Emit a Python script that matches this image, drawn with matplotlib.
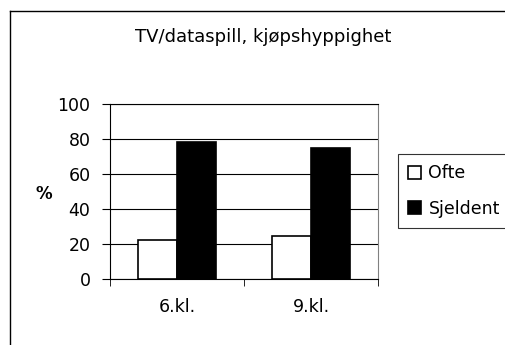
import numpy as np
import matplotlib.pyplot as plt
from matplotlib.lines import Line2D

plt.rcParams['font.family'] = ['DejaVu Sans']

categories = ['6.kl.', '9.kl.']
ofte = [22.3, 24.6]
sjeldent = [78.3, 75.0]
yticks = [0, 20, 40, 60, 80, 100]

W, H = 505, 345
fig = plt.figure(figsize=(W / 100, H / 100), dpi=100)

# outer chart frame: only left and top edges are inside the picture
fx, fy = 9.5 / W, 1 - 10.5 / H
fig.lines.append(Line2D([fx, fx], [0, fy], transform=fig.transFigure,
                        color='black', lw=1))
fig.lines.append(Line2D([fx, 1], [fy, fy], transform=fig.transFigure,
                        color='black', lw=1))

ax = fig.add_axes([110 / W, 1 - 279 / H, (378 - 110) / W, (279 - 104) / H])
x = np.arange(len(categories))
bw = 0.29
ax.bar(x - bw / 2, ofte, bw, color='white', edgecolor='black', lw=1.2,
       label='Ofte', zorder=3)
ax.bar(x + bw / 2, sjeldent, bw, color='black', edgecolor='black', lw=1.2,
       label='Sjeldent', zorder=3)

ax.set_xlim(-0.5, 1.5)
ax.set_ylim(0, 100)
ax.set_yticks(yticks)
ax.yaxis.grid(True, color='black', lw=0.8, zorder=0)
ax.set_xticks(x)
ax.set_xticklabels(categories, fontsize=12.5)
ax.tick_params(axis='x', length=0, pad=14)
ax.set_xticks([-0.5, 0.5, 1.5], minor=True)
ax.tick_params(axis='x', which='minor', length=5, direction='out', color='black')
ax.tick_params(axis='y', length=6, direction='out', labelsize=12.5, pad=8)
for s in ax.spines.values():
    s.set_color('black')
    s.set_linewidth(0.8)
ax.spines['right'].set_color('#808080')

fig.text(44 / W, 1 - 194 / H, '%', fontsize=12, fontweight='bold',
         ha='center', va='center')
fig.text(263 / W, 1 - 37 / H, 'TV/dataspill, kjøpshyppighet', fontsize=13,
         ha='center', va='center')

leg = ax.legend(loc='upper left', bbox_to_anchor=(398 / W, 1 - 154 / H),
                bbox_transform=fig.transFigure, fontsize=12.5, frameon=True,
                fancybox=False, edgecolor='black', handlelength=0.75,
                handleheight=0.75, handletextpad=0.4, borderpad=0.6,
                labelspacing=1.0, borderaxespad=0)
leg.get_frame().set_linewidth(0.8)

fig.savefig('out.png', dpi=100)
